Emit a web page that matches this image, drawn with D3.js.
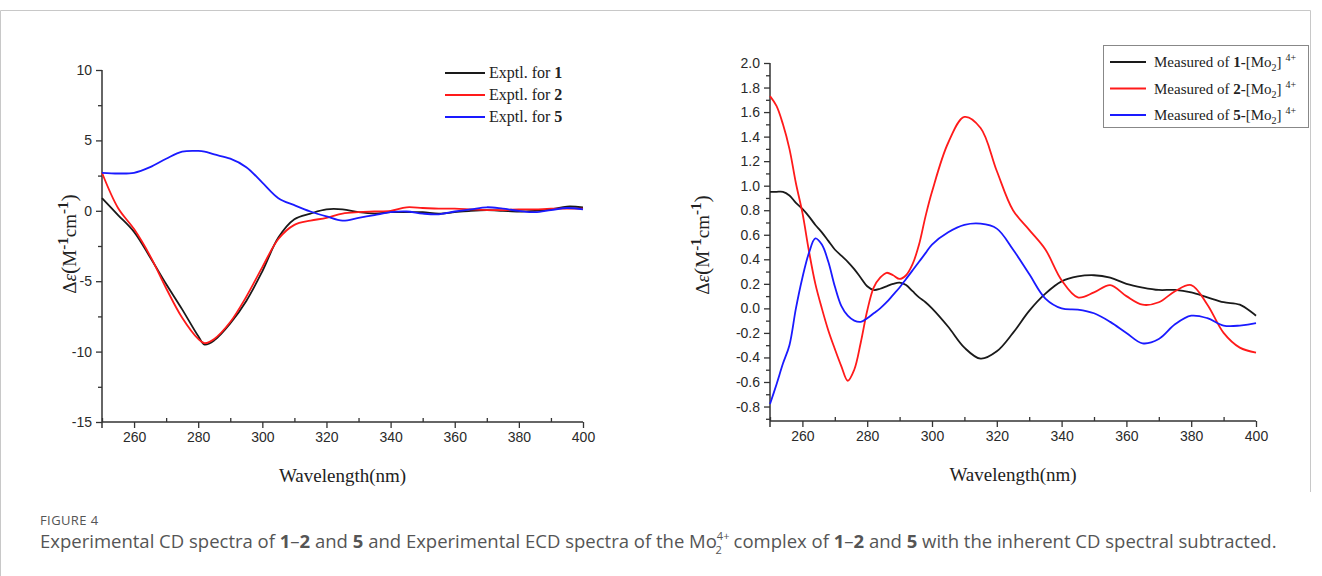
<!DOCTYPE html>
<html>
<head>
<meta charset="utf-8">
<script src="https://cdn.jsdelivr.net/npm/d3@7"></script>
<style>
  body { margin: 0; background: #fff; }
  svg { display: block; }
</style>
</head>
<body>
<svg id="plot" width="1322" height="576"></svg>
<script>
const svg = d3.select('#plot');

// ---- Data ----

// left panel: CD spectra of 1, 2, 5
const wlLeft = [250, 255, 260, 265, 270, 275, 280, 282, 285, 290, 295, 300, 305, 310, 315, 320,
    325, 330, 335, 340, 345, 350, 355, 360, 365, 370, 375, 380, 385, 390, 395, 400];
const cd1 = [0.9, -0.3, -1.5, -3.3, -5.2, -7.0, -8.9, -9.5, -9.2, -8.0, -6.4, -4.3, -1.9, -0.6, -0.2, 0.1,
    0.1, -0.1, -0.2, -0.1, -0.1, -0.1, -0.2, -0.1, 0.0, 0.05, 0.0, -0.05, 0.0, 0.1, 0.3, 0.25];
const cd2 = [2.7, 0.2, -1.3, -3.2, -5.5, -7.6, -9.1, -9.4, -9.1, -7.9, -6.1, -4.0, -2.0, -1.0, -0.7, -0.5,
    -0.2, -0.1, -0.05, 0.0, 0.25, 0.2, 0.15, 0.15, 0.1, 0.05, 0.05, 0.1, 0.1, 0.15, 0.15, 0.15];
const cd5 = [2.7, 2.65, 2.7, 3.1, 3.7, 4.2, 4.25, 4.2, 4.0, 3.7, 3.1, 2.0, 0.9, 0.4, -0.05, -0.4,
    -0.7, -0.5, -0.3, -0.1, -0.05, -0.2, -0.25, -0.05, 0.1, 0.25, 0.15, 0.0, -0.1, 0.05, 0.2, 0.1];

// right panel: ECD of Mo2 complexes
const wlRight = [250, 252, 254, 256, 258, 260, 262, 264, 266, 268, 270, 272, 274, 276, 278, 280,
    282, 284, 286, 288, 290, 292, 294, 296, 298, 300, 305, 310, 315, 320, 325, 330, 335, 340,
    345, 350, 355, 360, 365, 370, 375, 380, 385, 390, 395, 400];
const mo1 = [0.95, 0.95, 0.95, 0.92, 0.86, 0.81, 0.75, 0.68, 0.62, 0.55, 0.48, 0.43, 0.38, 0.32, 0.25, 0.18,
    0.15, 0.16, 0.18, 0.2, 0.21, 0.19, 0.14, 0.09, 0.05, 0.0, -0.15, -0.32, -0.41, -0.35, -0.2, -0.02, 0.12, 0.22,
    0.26, 0.27, 0.25, 0.2, 0.17, 0.15, 0.15, 0.13, 0.09, 0.05, 0.03, -0.06];
const mo2 = [1.73, 1.65, 1.5, 1.3, 1.02, 0.78, 0.47, 0.2, 0.0, -0.18, -0.33, -0.47, -0.59, -0.5, -0.28, -0.02,
    0.17, 0.25, 0.29, 0.27, 0.24, 0.27, 0.36, 0.52, 0.75, 0.95, 1.35, 1.56, 1.47, 1.12, 0.8, 0.64, 0.48, 0.23,
    0.09, 0.13, 0.19, 0.1, 0.03, 0.05, 0.14, 0.19, 0.03, -0.2, -0.32, -0.36];
const mo5 = [-0.78, -0.62, -0.45, -0.3, 0.0, 0.25, 0.45, 0.57, 0.52, 0.38, 0.18, 0.02, -0.06, -0.1, -0.11, -0.08,
    -0.04, 0.0, 0.05, 0.11, 0.17, 0.24, 0.31, 0.38, 0.45, 0.52, 0.62, 0.68, 0.69, 0.65, 0.48, 0.28, 0.08, 0.0,
    -0.01, -0.04, -0.11, -0.2, -0.285, -0.25, -0.13, -0.06, -0.08, -0.14, -0.14, -0.12];

const colors = ['#1a1a1a', '#ff1a1a', '#1a1aff'];
const leftNums = ['1', '2', '5'];

// ---- helpers ----
const axisColor = '#333';
const serif = '"Liberation Serif", "Times New Roman", serif';
const sans = '"Liberation Sans", Arial, sans-serif';

const drawFrame = () => {
    svg.append('line').attr('x1', 0.5).attr('x2', 1310.5).attr('y1', 10.5).attr('y2', 10.5)
        .attr('stroke', '#c8c8c8');
    svg.append('line').attr('x1', 1310.5).attr('x2', 1310.5).attr('y1', 10.5).attr('y2', 492)
        .attr('stroke', '#c8c8c8');
    svg.append('line').attr('x1', 0.5).attr('x2', 0.5).attr('y1', 10.5).attr('y2', 576)
        .attr('stroke', '#c8c8c8');
};

const yLabel = (g, x, y) => {
    const t = g.append('text')
        .attr('transform', `translate(${x},${y}) rotate(-90)`)
        .attr('text-anchor', 'middle')
        .attr('font-family', serif)
        .attr('font-size', 19)
        .attr('fill', '#222');
    t.append('tspan').text('Δ');
    t.append('tspan').attr('font-style', 'italic').text('ε');
    t.append('tspan').attr('font-size', 22).text('(');
    t.append('tspan').text('M');
    t.append('tspan').attr('dy', -8).attr('font-size', 15).attr('font-weight', 'bold').text('-1');
    t.append('tspan').attr('dy', 8).text('cm');
    t.append('tspan').attr('dy', -8).attr('font-size', 15).attr('font-weight', 'bold').text('-1');
    t.append('tspan').attr('dy', 8).attr('font-size', 22).text(')');
};

const hyphenFmt = f => d => f(d).replace('−', '-');

const drawPanel = (opt) => {
    const {x0, x1, y0, y1, yDomain, yMajor, yMinor, yFmt, wl, series} = opt;
    const g = svg.append('g');

    const xScale = d3.scaleLinear().domain([250, 400]).range([x0, x1]);
    const yScale = d3.scaleLinear().domain(yDomain).range([y1, y0]);

    // x axis: major ticks out, minor ticks in
    const xAxisG = g.append('g')
        .attr('transform', `translate(0,${y1})`)
        .call(d3.axisBottom(xScale).tickValues(d3.range(260, 401, 20)).tickSize(6).tickPadding(4));
    g.append('g')
        .attr('transform', `translate(0,${y1})`)
        .call(d3.axisTop(xScale).tickValues(d3.range(250, 401, 10).filter(d => (d - 260) % 20 !== 0)).tickSize(4).tickFormat(''))
        .selectAll('.domain').remove();
    g.append('line').attr('x1', x0).attr('x2', x0).attr('y1', y1).attr('y2', y1 + 6).attr('stroke', axisColor).attr('stroke-width', 1.5);

    const yAxisG = g.append('g')
        .attr('transform', `translate(${x0},0)`)
        .call(d3.axisLeft(yScale).tickValues(yMajor).tickSize(6).tickPadding(4).tickFormat(hyphenFmt(yFmt)));
    g.append('g')
        .attr('transform', `translate(${x0},0)`)
        .call(d3.axisLeft(yScale).tickValues(yMinor).tickSize(4).tickFormat(''))
        .selectAll('.domain').remove();

    g.selectAll('.domain').attr('stroke', axisColor).attr('stroke-width', 1.5);
    g.selectAll('.tick line').attr('stroke', axisColor).attr('stroke-width', 1.3);
    g.selectAll('.tick text').attr('font-family', sans).attr('font-size', 14).attr('fill', '#2a2a2a');
    // plain domain lines without the end caps
    xAxisG.select('.domain').attr('d', `M${x0},0H${x1}`);
    yAxisG.select('.domain').attr('d', `M0,${y1}V${y0}`);

    const line = d3.line()
        .x(d => xScale(d[0]))
        .y(d => yScale(d[1]))
        .curve(d3.curveCatmullRom.alpha(0.5));

    series.forEach((vals, i) => {
        g.append('path')
            .datum(wl.map((w, j) => [w, vals[j]]))
            .attr('d', line)
            .attr('fill', 'none')
            .attr('stroke', colors[i])
            .attr('stroke-width', 1.8)
            .attr('stroke-linejoin', 'round');
    });

    g.append('text')
        .attr('x', (x0 + x1) / 2)
        .attr('y', y1 + 60)
        .attr('text-anchor', 'middle')
        .attr('font-family', serif)
        .attr('font-size', 19)
        .attr('fill', '#222')
        .text('Wavelength(nm)');

    return g;
};

drawFrame();

// ---- left panel ----
const left = drawPanel({
    x0: 102, x1: 583, y0: 70, y1: 422,
    yDomain: [-15, 10],
    yMajor: d3.range(-15, 11, 5),
    yMinor: d3.range(-12.5, 10, 5),
    yFmt: d3.format('d'),
    wl: wlLeft,
    series: [cd1, cd2, cd5]
});
yLabel(left, 76, 244);

leftNums.forEach((n, i) => {
    const y = 73 + i * 22;
    left.append('line').attr('x1', 445).attr('x2', 485).attr('y1', y).attr('y2', y)
        .attr('stroke', colors[i]).attr('stroke-width', 1.8);
    const t = left.append('text').attr('x', 489).attr('y', y + 5)
        .attr('font-family', serif).attr('font-size', 16).attr('fill', '#222');
    t.append('tspan').text('Exptl. for ');
    t.append('tspan').attr('font-weight', 'bold').text(n);
});

// ---- right panel ----
const right = drawPanel({
    x0: 770, x1: 1256, y0: 63, y1: 421,
    yDomain: [-0.918, 2.0],
    yMajor: d3.range(-8, 21, 2).map(d => d / 10),
    yMinor: d3.range(-9, 21, 2).map(d => d / 10),
    yFmt: d3.format('.1f'),
    wl: wlRight,
    series: [mo1, mo2, mo5]
});
yLabel(right, 709, 245);

right.append('rect')
    .attr('x', 1103.5).attr('y', 45.5).attr('width', 205).attr('height', 82)
    .attr('fill', '#fff').attr('stroke', '#888').attr('stroke-width', 1);
leftNums.forEach((n, i) => {
    const y = 62 + i * 26.5;
    right.append('line').attr('x1', 1110).attr('x2', 1146).attr('y1', y).attr('y2', y)
        .attr('stroke', colors[i]).attr('stroke-width', 1.8);
    const t = right.append('text').attr('x', 1154).attr('y', y + 5)
        .attr('font-family', serif).attr('font-size', 15).attr('fill', '#222');
    t.append('tspan').text('Measured of ');
    t.append('tspan').attr('font-weight', 'bold').text(n + '-');
    t.append('tspan').text('[Mo');
    t.append('tspan').attr('font-size', 10).attr('dy', 4).text('2');
    t.append('tspan').attr('dy', -4).text(']');
    t.append('tspan').attr('font-size', 10).attr('dx', 4).attr('dy', -6).text('4+');
});

// ---- caption ----
const cap = svg.append('g').attr('font-family', '"Open Sans", sans-serif').attr('fill', '#555');
cap.append('text').attr('x', 40).attr('y', 525)
    .attr('font-size', 13).attr('letter-spacing', 0.4).text('FIGURE 4');

const capText = cap.append('text').attr('x', 40).attr('y', 548).attr('font-size', 18.5);
const parts = [
    ['Experimental CD spectra of ', 0], ['1', 1], ['–', 0], ['2', 1], [' and ', 0], ['5', 1],
    [' and Experimental ECD spectra of the Mo', 0]
];
parts.forEach(([s, b]) => capText.append('tspan').attr('font-weight', b ? 'bold' : null).text(s));
capText.append('tspan').attr('font-size', 11).attr('dy', -8).text('4+');
capText.append('tspan').attr('font-size', 11).attr('dx', -14).attr('dy', 14).text('2');
const parts2 = [
    [' complex of ', 0], ['1', 1], ['–', 0], ['2', 1], [' and ', 0], ['5', 1],
    [' with the inherent CD spectral subtracted.', 0]
];
capText.append('tspan').attr('dx', 7).attr('dy', -6).text(parts2[0][0]);
parts2.slice(1).forEach(([s, b]) => capText.append('tspan').attr('font-weight', b ? 'bold' : null).text(s));
</script>
</body>
</html>
